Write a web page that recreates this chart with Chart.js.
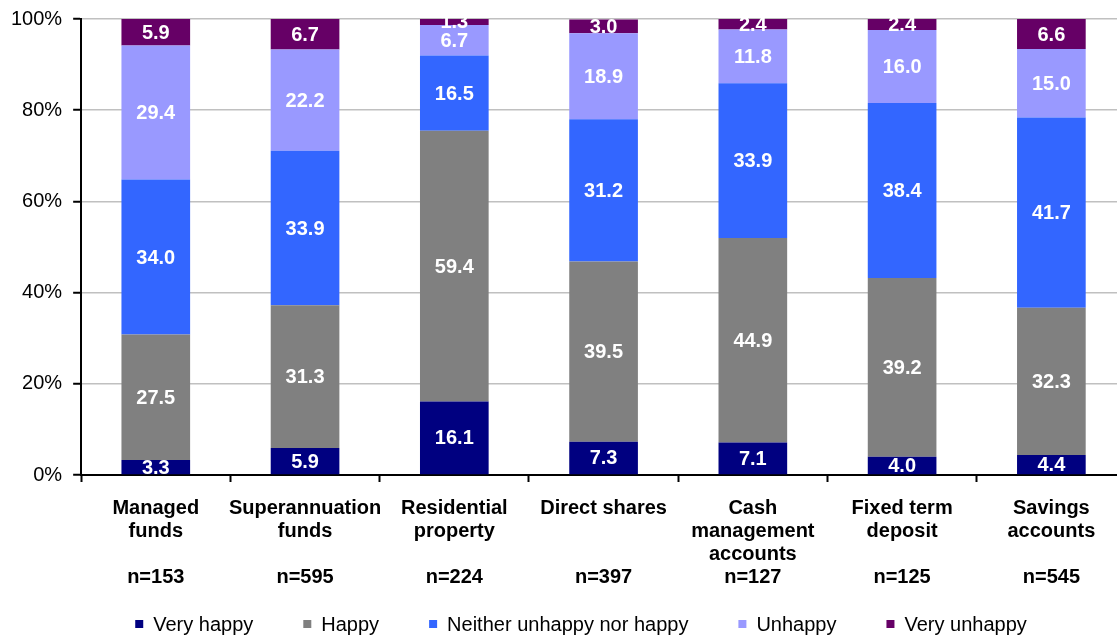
<!DOCTYPE html>
<html>
<head>
<meta charset="utf-8">
<script src="https://cdn.jsdelivr.net/npm/chart.js@4.4.1/dist/chart.umd.min.js"></script>
<style>
  html, body { margin: 0; padding: 0; background: #fff; overflow: hidden; }
  #wrap { position: relative; width: 1126px; height: 635px; }
</style>
</head>
<body>
<div id="wrap"><canvas id="satisfactionChart"></canvas></div>
<script>
// categories (last line is the sample size)
const categories = [
  ['Managed', 'funds', '', 'n=153'],
  ['Superannuation', 'funds', '', 'n=595'],
  ['Residential', 'property', '', 'n=224'],
  ['Direct shares', '', '', 'n=397'],
  ['Cash', 'management', 'accounts', 'n=127'],
  ['Fixed term', 'deposit', '', 'n=125'],
  ['Savings', 'accounts', '', 'n=545']
];

// percentages per series
const veryHappy   = [3.3, 5.9, 16.1, 7.3, 7.1, 4.0, 4.4];
const happy       = [27.5, 31.3, 59.4, 39.5, 44.9, 39.2, 32.3];
const neither     = [34.0, 33.9, 16.5, 31.2, 33.9, 38.4, 41.7];
const unhappy     = [29.4, 22.2, 6.7, 18.9, 11.8, 16.0, 15.0];
const veryUnhappy = [5.9, 6.7, 1.3, 3.0, 2.4, 2.4, 6.6];

const yTicks = [0, 20, 40, 60, 80, 100];

const FONT = 'Liberation Sans, Arial, sans-serif';

// draws the value in the middle of each segment
const segmentLabels = {
  id: 'segmentLabels',
  afterDatasetsDraw(chart) {
    const ctx = chart.ctx;
    ctx.save();
    ctx.font = 'bold 20px ' + FONT;
    ctx.fillStyle = '#fff';
    ctx.textAlign = 'center';
    ctx.textBaseline = 'middle';
    chart.data.datasets.forEach((ds, i) => {
      const meta = chart.getDatasetMeta(i);
      meta.data.forEach((bar, j) => {
        const y = (bar.y + bar.base) / 2;
        ctx.fillText(ds.data[j].toFixed(1), bar.x, y + 1);
      });
    });
    ctx.restore();
  }
};

// the built-in legend ties item gap to its vertical padding, so draw a simple row here
const bottomLegend = {
  id: 'bottomLegend',
  afterDraw(chart) {
    const ctx = chart.ctx;
    const box = 8, gapText = 10, gapItem = 50, y = 624, centerX = 581;
    ctx.save();
    ctx.font = '20px ' + FONT;
    ctx.textBaseline = 'middle';
    const items = chart.data.datasets.map(ds => ({
      text: ds.label, color: ds.backgroundColor, w: ctx.measureText(ds.label).width
    }));
    const total = items.reduce((s, it) => s + box + gapText + it.w, 0) + gapItem * (items.length - 1);
    let x = centerX - total / 2;
    items.forEach(it => {
      ctx.fillStyle = it.color;
      ctx.fillRect(x, y - box / 2, box, box);
      ctx.fillStyle = '#000';
      ctx.fillText(it.text, x + box + gapText, y + 1);
      x += box + gapText + it.w + gapItem;
    });
    ctx.restore();
  }
};

const ctx = document.getElementById('satisfactionChart').getContext('2d');
const chart = new Chart(ctx, {
  type: 'bar',
  data: {
    labels: categories,
    datasets: [
      { label: 'Very happy', data: veryHappy, backgroundColor: '#000080' },
      { label: 'Happy', data: happy, backgroundColor: '#808080' },
      { label: 'Neither unhappy nor happy', data: neither, backgroundColor: '#3366ff' },
      { label: 'Unhappy', data: unhappy, backgroundColor: '#9999ff' },
      { label: 'Very unhappy', data: veryUnhappy, backgroundColor: '#660066' }
    ]
  },
  options: {
    responsive: true,
    maintainAspectRatio: false,
    animation: false,
    layout: { padding: { top: 0, left: 0, right: 0, bottom: 31 } },
    datasets: {
      bar: { barPercentage: 0.46, categoryPercentage: 1, borderWidth: 0 }
    },
    scales: {
      x: {
        stacked: true,
        border: { display: true, color: '#000', width: 2 },
        grid: {
          offset: true,
          drawOnChartArea: false,
          drawTicks: true,
          tickLength: 7,
          tickColor: '#000',
          tickWidth: 2
        },
        ticks: {
          color: '#000',
          font: { family: FONT, size: 20, weight: 'bold', lineHeight: 1.15 },
          maxRotation: 0,
          autoSkip: false,
          padding: 15
        }
      },
      y: {
        stacked: true,
        min: 0,
        max: 100,
        afterBuildTicks: axis => { axis.ticks = yTicks.map(v => ({ value: v })); },
        border: { display: true, color: '#000', width: 2 },
        grid: {
          color: '#c0c0c0',
          lineWidth: 1.5,
          tickColor: '#000',
          tickLength: 8,
          tickWidth: 2
        },
        ticks: {
          color: '#000',
          font: { family: FONT, size: 20, lineHeight: 0.8 },
          padding: 11,
          callback: v => v + '%'
        }
      }
    },
    plugins: {
      legend: { display: false },
      tooltip: { enabled: false }
    }
  },
  plugins: [segmentLabels, bottomLegend]
});
</script>
</body>
</html>
